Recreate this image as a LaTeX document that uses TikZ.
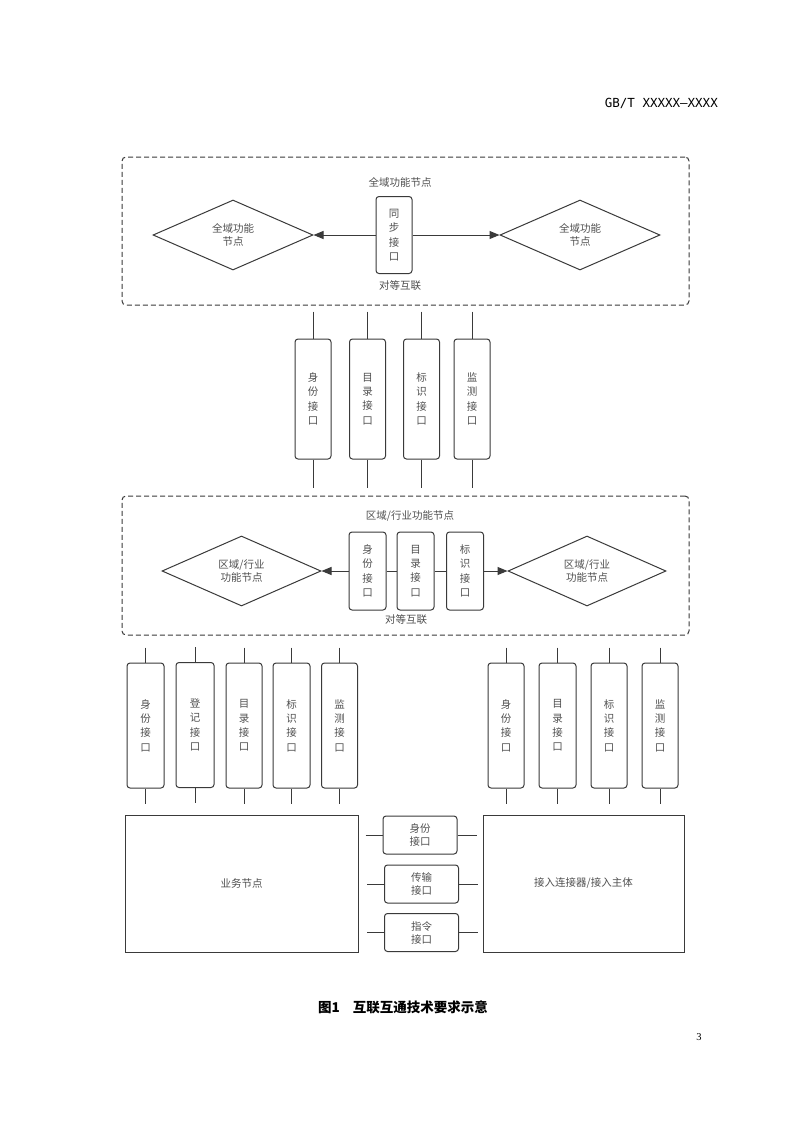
\documentclass[tikz,border=0pt]{standalone}
\usepackage{fontspec}
\setmainfont{Liberation Serif}
\newfontfamily\cjk{Noto Sans CJK SC}
\newfontfamily\monof{DejaVu Sans Mono}
\usetikzlibrary{shapes.geometric,arrows.meta}
\definecolor{lc}{HTML}{3A3A3A}
\definecolor{tc}{HTML}{505050}
\tikzset{
  cfont/.style={font=\cjk\fontsize{10.5}{14.3}\selectfont, text=tc},
  dframe/.style={draw=lc, dash pattern=on 5pt off 3pt, line width=1pt, rounded corners=4pt, inner sep=0},
  ifbox/.style={draw=lc, line width=1pt, rounded corners=3pt, inner sep=0, minimum width=36pt, align=center, cfont},
  hbox/.style={draw=lc, line width=1pt, rounded corners=3pt, inner sep=0, minimum width=74pt, minimum height=38pt, align=center, font=\cjk\fontsize{10.5}{13}\selectfont, text=tc},
  dia/.style={draw=lc, diamond, line width=1pt, inner sep=0, minimum width=160pt, minimum height=70pt, align=center, font=\cjk\fontsize{10.5}{13.5}\selectfont, text=tc},
  bigbox/.style={draw=lc, line width=1pt, inner sep=0, cfont},
  lbl/.style={inner sep=0, cfont},
  conn/.style={draw=lc, line width=1pt},
  arr/.style={conn, -{Triangle[length=10pt,width=8pt]}}
}
\begin{document}
\begin{tikzpicture}[x=1pt,y=-1pt]
\useasboundingbox (0,0) rectangle (793,1122);
\fill[white] (0,0) rectangle (793,1122);

% header and page number
\node[anchor=east, inner sep=0, font=\monof\fontsize{12.5}{14}\selectfont] (hdr) at (718,103) {GB/T XXXXX—XXXX};
\node[inner sep=0, font=\fontsize{10.5}{12}\selectfont] (pg) at (699,1037) {3};

% ===== top frame =====
\node[dframe, minimum width=567pt, minimum height=148pt] (topf) at (405.5,231) {};
\node[lbl] (toptitle) at (400,182) {全域功能节点};
\node[lbl] (topbot) at (400,286) {对等互联};
\node[ifbox, minimum width=36pt, minimum height=77pt] (sync) at (394,235) {同\\步\\接\\口};
\node[dia] (d1) at (233,235) {全域功能\\节点};
\node[dia] (d2) at (580,235) {全域功能\\节点};
\draw[arr] (sync.west) -- (d1.east);
\draw[arr] (sync.east) -- (d2.west);

% ===== top interface column =====
\node[ifbox, minimum height=120pt] (ta) at (313,399) {身\\份\\接\\口};
\node[ifbox, minimum height=120pt] (tb) at (367.5,399) {目\\录\\接\\口};
\node[ifbox, minimum height=120pt] (tc) at (421.5,399) {标\\识\\接\\口};
\node[ifbox, minimum height=120pt] (td) at (472,399) {监\\测\\接\\口};
\foreach \n in {ta,tb,tc,td}{
  \path (\n.north) ++(0,-27) coordinate (\n-u);
  \path (\n.south) ++(0,28) coordinate (\n-d);
  \draw[conn] (\n-u) -- (\n.north);
  \draw[conn] (\n.south) -- (\n-d);
}

% ===== middle frame =====
\node[dframe, minimum width=567pt, minimum height=139pt] (midf) at (405.5,565.5) {};
\node[lbl] (midtitle) at (410,516) {区域/行业功能节点};
\node[lbl] (midbot) at (406,620) {对等互联};
\node[ifbox, minimum width=37pt, minimum height=78pt] (ma) at (367.5,571) {身\\份\\接\\口};
\node[ifbox, minimum width=37pt, minimum height=78pt] (mb) at (415.5,571) {目\\录\\接\\口};
\node[ifbox, minimum width=37pt, minimum height=78pt] (mc) at (465,571) {标\\识\\接\\口};
\node[dia, minimum width=159pt] (d3) at (241.5,571) {区域/行业\\功能节点};
\node[dia, minimum width=158pt] (d4) at (587,571) {区域/行业\\功能节点};
\draw[arr] (ma.west) -- (d3.east);
\draw[conn] (ma.east) -- (mb.west);
\draw[conn] (mb.east) -- (mc.west);
\draw[arr] (mc.east) -- (d4.west);

% ===== bottom-left interfaces =====
\node[ifbox, minimum width=37pt, minimum height=125pt] (la) at (145.5,725.5) {身\\份\\接\\口};
\node[ifbox, minimum width=38pt, minimum height=125pt] (lb) at (195,725) {登\\记\\接\\口};
\node[ifbox, minimum width=36pt, minimum height=125pt] (lc) at (244,725.5) {目\\录\\接\\口};
\node[ifbox, minimum width=37pt, minimum height=125pt] (ld) at (291.5,725.5) {标\\识\\接\\口};
\node[ifbox, minimum width=36pt, minimum height=125pt] (le) at (339.5,725.5) {监\\测\\接\\口};

% ===== bottom-right interfaces =====
\node[ifbox, minimum width=36pt, minimum height=125pt] (ra) at (506,725.5) {身\\份\\接\\口};
\node[ifbox, minimum width=37pt, minimum height=125pt] (rb) at (557.5,725.5) {目\\录\\接\\口};
\node[ifbox, minimum width=36pt, minimum height=125pt] (rc) at (609,725.5) {标\\识\\接\\口};
\node[ifbox, minimum width=36pt, minimum height=125pt] (rd) at (660,725.5) {监\\测\\接\\口};

\foreach \n in {la,lb,lc,ld,le,ra,rb,rc,rd}{
  \path (\n.north) ++(0,-15) coordinate (\n-u);
  \path (\n.south) ++(0,15) coordinate (\n-d);
  \draw[conn] (\n-u) -- (\n.north);
  \draw[conn] (\n.south) -- (\n-d);
}

% ===== bottom boxes =====
\node[bigbox, minimum width=233pt, minimum height=137pt] (biz) at (241.5,883.5) {业务节点};
\node[bigbox, minimum width=201pt, minimum height=137pt] (acc) at (583.5,883.5) {接入连接器/接入主体};
\node[hbox] (ha) at (420,835) {身份\\接口};
\node[hbox] (hb) at (421.5,884) {传输\\接口};
\node[hbox] (hc) at (421.5,932.5) {指令\\接口};
\foreach \n in {ha,hb,hc}{
  \path (\n.west) ++(-17,0) coordinate (\n-l);
  \path (\n.east) ++(19,0) coordinate (\n-r);
  \draw[conn] (\n-l) -- (\n.west);
  \draw[conn] (\n.east) -- (\n-r);
}

% caption
\node[anchor=west, inner sep=0, font=\cjk\bfseries\fontsize{13.5}{15}\selectfont] (cap) at (318,1007) {图1\hspace{13pt}互联互通技术要求示意};
\end{tikzpicture}
\end{document}
